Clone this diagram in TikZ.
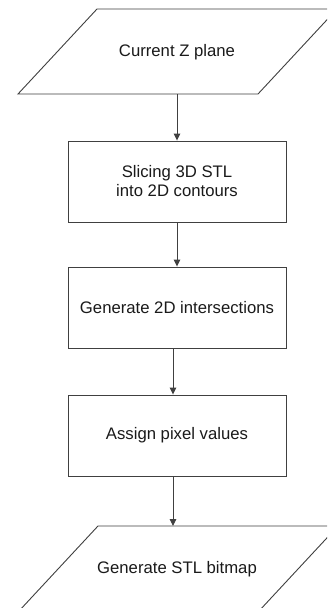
\documentclass[tikz,border=0pt]{standalone}
\usepackage{fontspec}
\setmainfont{Liberation Sans}
\usetikzlibrary{arrows.meta}
\definecolor{linec}{HTML}{404040}
\definecolor{textc}{HTML}{1A1A1A}
\tikzset{
  every node/.style={font=\fontsize{16.7}{19}\selectfont, text=textc},
  stepbox/.style={draw=linec, line width=0.9pt, fill=white, minimum width=218pt, minimum height=81pt, align=center, inner sep=0pt},
  ioshape/.style={draw=linec, line width=0.9pt, fill=white},
  arr/.style={draw=linec, line width=0.9pt, -{Triangle[length=7pt,width=6.5pt]}}
}
\begin{document}
\begin{tikzpicture}[x=1pt,y=-1pt]
\useasboundingbox (0,0) rectangle (327,608);
\clip (0,0) rectangle (327,608);
\fill[white] (0,0) rectangle (327,608);
% top parallelogram
\draw[ioshape] (97,9) -- (337,9) -- (258,94) -- (18,94) -- cycle;
\node (p1) at (177,52) {Current Z plane};
\coordinate (p1s) at (177,94);
% boxes
\node[stepbox] (b1) at (177,181.5) {Slicing 3D STL\\into 2D contours};
\node[stepbox] (b2) at (177,307.5) {Generate 2D intersections};
\node[stepbox] (b3) at (177,435.5) {Assign pixel values};
% bottom parallelogram
\draw[ioshape] (98,526) -- (338,526) -- (259,611) -- (19,611) -- cycle;
\node (p2) at (177,569) {Generate STL bitmap};
\coordinate (p2n) at (173,526);
% connectors
\draw[arr] (p1s) -- (b1.north);
\draw[arr] (b1.south) -- (b2.north);
\draw[arr] ([xshift=-4pt]b2.south) -- ([xshift=-4pt]b3.north);
\draw[arr] ([xshift=-4pt]b3.south) -- (p2n);
\end{tikzpicture}
\end{document}
